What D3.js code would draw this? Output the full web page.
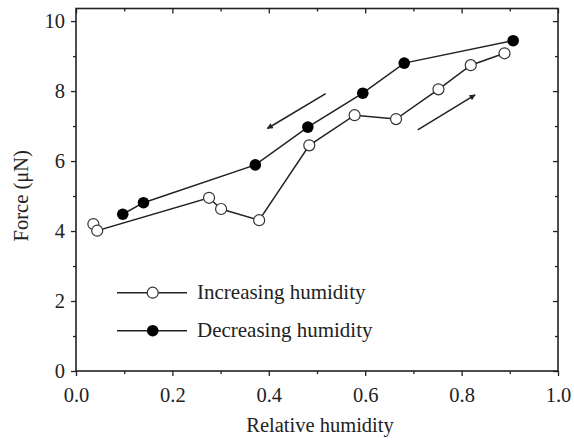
<!DOCTYPE html>
<html>
<head>
<meta charset="utf-8">
<script src="https://cdn.jsdelivr.net/npm/d3@7"></script>
<style>
  html, body { margin: 0; padding: 0; background: #fff; }
  svg { display: block; }
  text { font-family: "Liberation Serif", "Times New Roman", serif; fill: #222; }
</style>
</head>
<body>
<svg id="chart" width="574" height="441"></svg>
<script>
// Relative humidity (x) and adhesion force in µN (y)
const increasingRH    = [0.036, 0.044, 0.276, 0.301, 0.380, 0.484, 0.578, 0.664, 0.752, 0.819, 0.889];
const increasingForce = [4.20, 4.01, 4.95, 4.63, 4.31, 6.45, 7.31, 7.20, 8.05, 8.74, 9.08];
const decreasingRH    = [0.907, 0.681, 0.595, 0.481, 0.372, 0.140, 0.097];
const decreasingForce = [9.44, 8.80, 7.94, 6.97, 5.89, 4.81, 4.48];

const xTicks = [0, 0.2, 0.4, 0.6, 0.8, 1.0];
const xMinorTicks = [0.1, 0.3, 0.5, 0.7, 0.9];
const yTicks = [0, 2, 4, 6, 8, 10];
const yMinorTicks = [1, 3, 5, 7, 9];

const seriesNames = ["Increasing humidity", "Decreasing humidity"];

// Direction arrows: [x1, y1, x2, y2] in data units
const arrowDecreasing = [0.518, 7.93, 0.397, 6.93];
const arrowIncreasing = [0.709, 6.89, 0.828, 7.89];

const svg = d3.select("#chart");
const plotLeft = 76, plotRight = 558, plotTop = 8.5, plotBottom = 371;

const x = d3.scaleLinear().domain([0, 1.0]).range([plotLeft, plotRight]);
const y = d3.scaleLinear().domain([0, 10.36]).range([plotBottom, plotTop]);

const ink = "#222";
const fontSize = 20.5;
const legendFontSize = 21;

// Arrowhead marker
svg.append("defs").append("marker")
  .attr("id", "head")
  .attr("viewBox", "0 0 10 10")
  .attr("refX", 9).attr("refY", 5)
  .attr("markerWidth", 9).attr("markerHeight", 6)
  .attr("markerUnits", "userSpaceOnUse")
  .attr("orient", "auto")
  .append("path").attr("d", "M0,0 L10,5 L0,10 Z").attr("fill", ink);

// Axes: bottom/left ticks outward, top/right ticks inward
function styleAxis(g) {
  g.select(".domain").remove();
  g.selectAll("line").attr("stroke", ink).attr("stroke-width", 1.3);
  g.selectAll("text").attr("font-size", fontSize).style("font-family", "Liberation Serif, serif").attr("fill", ink);
}

svg.append("g").attr("transform", `translate(0,${plotBottom})`)
  .call(d3.axisBottom(x).tickValues(xTicks).tickFormat(d3.format(".1f")).tickSize(5).tickPadding(11))
  .call(styleAxis);
svg.append("g").attr("transform", `translate(0,${plotBottom})`)
  .call(d3.axisBottom(x).tickValues(xMinorTicks).tickFormat("").tickSize(3))
  .call(styleAxis);
svg.append("g").attr("transform", `translate(0,${plotTop})`)
  .call(d3.axisBottom(x).tickValues(xTicks).tickFormat("").tickSize(5))
  .call(styleAxis);
svg.append("g").attr("transform", `translate(0,${plotTop})`)
  .call(d3.axisBottom(x).tickValues(xMinorTicks).tickFormat("").tickSize(3))
  .call(styleAxis);

svg.append("g").attr("transform", `translate(${plotLeft},0)`)
  .call(d3.axisLeft(y).tickValues(yTicks).tickFormat(d3.format("d")).tickSize(5).tickPadding(6))
  .call(styleAxis);
svg.append("g").attr("transform", `translate(${plotLeft},0)`)
  .call(d3.axisLeft(y).tickValues(yMinorTicks).tickFormat("").tickSize(3))
  .call(styleAxis);
svg.append("g").attr("transform", `translate(${plotRight},0)`)
  .call(d3.axisLeft(y).tickValues(yTicks).tickFormat("").tickSize(5))
  .call(styleAxis);
svg.append("g").attr("transform", `translate(${plotRight},0)`)
  .call(d3.axisLeft(y).tickValues(yMinorTicks).tickFormat("").tickSize(3))
  .call(styleAxis);

// Frame
svg.append("rect")
  .attr("x", plotLeft).attr("y", plotTop)
  .attr("width", plotRight - plotLeft).attr("height", plotBottom - plotTop)
  .attr("fill", "none").attr("stroke", ink).attr("stroke-width", 1.6);

// Axis titles
svg.append("text")
  .attr("x", (plotLeft + plotRight) / 2 + 3).attr("y", 432)
  .attr("text-anchor", "middle").attr("font-size", fontSize)
  .text("Relative humidity");
svg.append("text")
  .attr("transform", `translate(28,${(plotTop + plotBottom) / 2 + 6}) rotate(-90)`)
  .attr("text-anchor", "middle").attr("font-size", fontSize)
  .text("Force (μN)");

// Series lines and markers
const line = d3.line().x(d => x(d[0])).y(d => y(d[1]));
const incData = increasingRH.map((v, i) => [v, increasingForce[i]]);
const decData = decreasingRH.map((v, i) => [v, decreasingForce[i]]);

[incData, decData].forEach(data => {
  svg.append("path").datum(data)
    .attr("d", line).attr("fill", "none")
    .attr("stroke", ink).attr("stroke-width", 1.5);
});

svg.append("g").selectAll("circle").data(incData).join("circle")
  .attr("cx", d => x(d[0])).attr("cy", d => y(d[1])).attr("r", 5.5)
  .attr("fill", "#fff").attr("stroke", "#333").attr("stroke-width", 1.2);
svg.append("g").selectAll("circle").data(decData).join("circle")
  .attr("cx", d => x(d[0])).attr("cy", d => y(d[1])).attr("r", 5.8)
  .attr("fill", "#000");

// Direction arrows
[arrowDecreasing, arrowIncreasing].forEach(a => {
  svg.append("line")
    .attr("x1", x(a[0])).attr("y1", y(a[1]))
    .attr("x2", x(a[2])).attr("y2", y(a[3]))
    .attr("stroke", ink).attr("stroke-width", 1.5)
    .attr("marker-end", "url(#head)");
});

// Legend
const legend = svg.append("g");
const legendRows = [
  { name: seriesNames[0], fill: "#fff", stroke: "#333", ly: 292.7 },
  { name: seriesNames[1], fill: "#000", stroke: "none", ly: 330.7 }
];
legendRows.forEach(r => {
  legend.append("line")
    .attr("x1", 117).attr("x2", 187).attr("y1", r.ly).attr("y2", r.ly)
    .attr("stroke", ink).attr("stroke-width", 1.5);
  legend.append("circle")
    .attr("cx", 152.7).attr("cy", r.ly).attr("r", r.fill === "#000" ? 5.8 : 5.5)
    .attr("fill", r.fill).attr("stroke", r.stroke).attr("stroke-width", 1.2);
  legend.append("text")
    .attr("x", 197).attr("y", r.ly + 6.5)
    .attr("font-size", legendFontSize)
    .text(r.name);
});
</script>
</body>
</html>
